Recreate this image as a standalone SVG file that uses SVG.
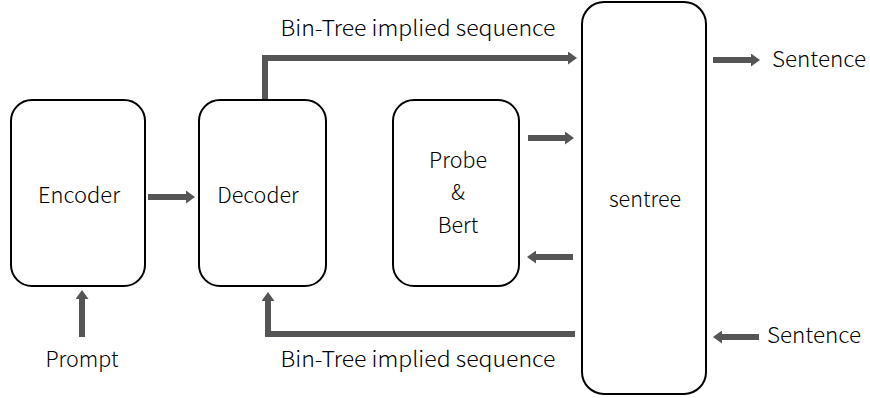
<svg xmlns="http://www.w3.org/2000/svg" width="870" height="398" viewBox="0 0 870 398">
<defs>
<marker id="ah" markerUnits="userSpaceOnUse" markerWidth="9" markerHeight="13" refX="0" refY="6.5" orient="auto">
<path d="M0,0 L9,6.5 L0,13 z" fill="#555"/>
</marker>
<style>
.box{fill:#fff;stroke:#000;stroke-width:2}
.t{font-family:"Noto Sans CJK SC","Noto Sans",sans-serif;font-size:21.5px;font-weight:300;fill:#000;text-anchor:middle}
.c{fill:none;stroke:#555;stroke-width:6}
</style>
</defs>
<rect width="870" height="398" fill="#fff"/>
<g id="connectors">
<line class="c" x1="148" y1="197" x2="186" y2="197" marker-end="url(#ah)"/>
<polyline class="c" points="265,100 265,58 568,58" marker-end="url(#ah)"/>
<line class="c" x1="528" y1="138" x2="565" y2="138" marker-end="url(#ah)"/>
<line class="c" x1="573" y1="257" x2="536" y2="257" marker-end="url(#ah)"/>
<polyline class="c" points="575,334 268,334 268,301" marker-end="url(#ah)"/>
<line class="c" x1="82" y1="337" x2="82" y2="299" marker-end="url(#ah)"/>
<line class="c" x1="713" y1="60" x2="751" y2="60" marker-end="url(#ah)"/>
<line class="c" x1="759" y1="337" x2="722" y2="337" marker-end="url(#ah)"/>
</g>
<g id="encoder">
<rect class="box" x="11" y="100" width="134" height="186" rx="21"/>
<text class="t" x="79" y="203" textLength="82" lengthAdjust="spacingAndGlyphs">Encoder</text>
</g>
<g id="decoder">
<rect class="box" x="199" y="100" width="127" height="186" rx="21"/>
<text class="t" x="258" y="203">Decoder</text>
</g>
<g id="probe">
<rect class="box" x="393" y="100" width="126" height="186" rx="21"/>
<text class="t" x="458" y="168">Probe</text>
<text class="t" x="458" y="200">&amp;</text>
<text class="t" x="458" y="233">Bert</text>
</g>
<g id="sentree">
<rect class="box" x="582" y="2" width="124" height="392" rx="22"/>
<text class="t" x="645" y="207">sentree</text>
</g>
<g id="labels">
<text class="t" x="418" y="36" textLength="275" lengthAdjust="spacingAndGlyphs">Bin-Tree implied sequence</text>
<text class="t" x="418" y="367" textLength="275" lengthAdjust="spacingAndGlyphs">Bin-Tree implied sequence</text>
<text class="t" x="82" y="367">Prompt</text>
<text class="t" x="819" y="67" textLength="94" lengthAdjust="spacingAndGlyphs">Sentence</text>
<text class="t" x="814" y="343" textLength="94" lengthAdjust="spacingAndGlyphs">Sentence</text>
</g>
</svg>
